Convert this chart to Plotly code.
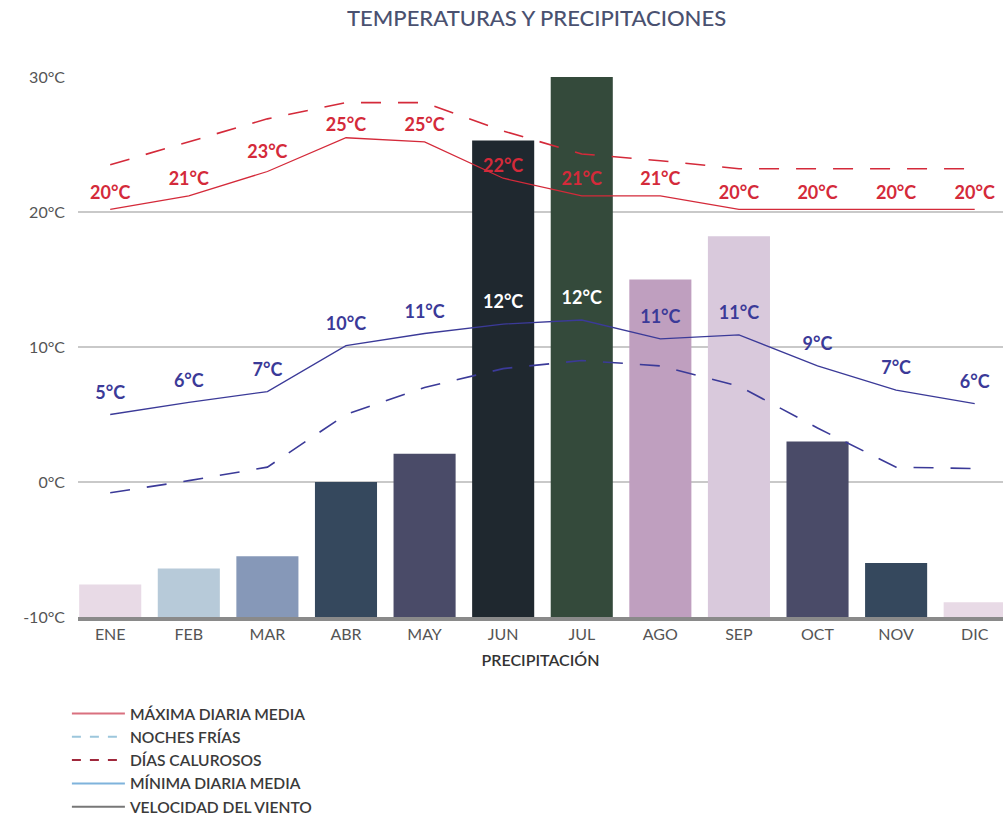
import plotly.graph_objects as go

months = ["ENE", "FEB", "MAR", "ABR", "MAY", "JUN", "JUL", "AGO", "SEP", "OCT", "NOV", "DIC"]

# Bars (precipitation), expressed as top value on the temperature scale (base at -10)
precip_top = [-7.6, -6.4, -5.5, 0.0, 2.1, 25.3, 30.0, 15.0, 18.2, 3.0, -6.0, -8.9]
bar_colors = ["#e8dae6", "#b7cad9", "#8698b8", "#35485d", "#4a4b68", "#1f282f",
              "#344a3b", "#bf9fbf", "#d9c9dc", "#4a4b68", "#35485d", "#e8dae6"]

# Lines
max_media = [20.2, 21.2, 23.0, 25.5, 25.2, 22.5, 21.2, 21.2, 20.2, 20.2, 20.2, 20.2]
dias_calurosos = [23.5, 25.2, 26.9, 28.1, 28.1, 26.0, 24.3, 23.8, 23.2, 23.2, 23.2, 23.2]
min_media = [5.0, 5.9, 6.7, 10.1, 11.0, 11.7, 12.0, 10.6, 10.9, 8.6, 6.8, 5.8]
noches_frias = [-0.8, 0.1, 1.1, 5.0, 7.0, 8.4, 9.0, 8.6, 7.1, 4.0, 1.1, 1.0]

# Labels
max_labels = [20, 21, 23, 25, 25, 22, 21, 21, 20, 20, 20, 20]
min_labels = [5, 6, 7, 10, 11, 12, 12, 11, 11, 9, 7, 6]

y_ticks = [-10, 0, 10, 20, 30]

RED = "#d42a3a"
BLUE = "#3b3a98"
LABEL_FONT = "Lato"
RED_LABEL_OFFSET = 1.3
BLUE_LABEL_OFFSET = 1.5
LONG_DASH = "20px,17px"

fig = go.Figure()

fig.add_trace(go.Bar(
    x=months, y=[t + 10 for t in precip_top], base=-10,
    marker=dict(color=bar_colors, line=dict(width=0)),
    showlegend=False, hoverinfo="skip",
))

fig.add_trace(go.Scatter(
    x=months, y=dias_calurosos, mode="lines",
    line=dict(color=RED, width=1.6, dash=LONG_DASH), showlegend=False,
))
fig.add_trace(go.Scatter(
    x=months, y=noches_frias, mode="lines",
    line=dict(color=BLUE, width=1.6, dash=LONG_DASH), showlegend=False,
))
fig.add_trace(go.Scatter(
    x=months, y=max_media, mode="lines",
    line=dict(color=RED, width=1.3), showlegend=False,
))
fig.add_trace(go.Scatter(
    x=months, y=min_media, mode="lines",
    line=dict(color=BLUE, width=1.3), showlegend=False,
))

# Data labels
fig.add_trace(go.Scatter(
    x=months, y=[v + RED_LABEL_OFFSET for v in max_labels], mode="text",
    text=[f"{v}°C" for v in max_labels], textposition="middle center",
    textfont=dict(family=LABEL_FONT, size=18, color=RED, weight="bold"),
    cliponaxis=False, showlegend=False, hoverinfo="skip",
))
min_text_colors = ["#ffffff" if t >= 25 else BLUE for t in precip_top]
fig.add_trace(go.Scatter(
    x=months, y=[v + BLUE_LABEL_OFFSET for v in min_media], mode="text",
    text=[f"{v}°C" for v in min_labels], textposition="middle center",
    textfont=dict(family=LABEL_FONT, size=18, color=min_text_colors, weight="bold"),
    cliponaxis=False, showlegend=False, hoverinfo="skip",
))

# Legend entries
legend_items = [
    ("MÁXIMA DIARIA MEDIA", "#d9707f", "solid"),
    ("NOCHES FRÍAS", "#9cc6dc", "dash"),
    ("DÍAS CALUROSOS", "#a0283c", "dash"),
    ("MÍNIMA DIARIA MEDIA", "#7fb3dc", "solid"),
    ("VELOCIDAD DEL VIENTO", "#777777", "solid"),
]
for name, col, dash in legend_items:
    fig.add_trace(go.Scatter(
        x=[None], y=[None], mode="lines", name=name,
        line=dict(color=col, width=2, dash=dash),
    ))

fig.update_layout(
    width=1003, height=815,
    margin=dict(l=78, r=0, t=77, b=198, autoexpand=False),
    paper_bgcolor="white", plot_bgcolor="white",
    bargap=0.21,
    title=dict(
        text="TEMPERATURAS Y PRECIPITACIONES",
        x=0.535, xanchor="center", y=0.977, yanchor="middle",
        font=dict(family="Lato", size=22, color="#4a5170", weight=500),
    ),
    font=dict(family="Lato", color="#444444"),
    legend=dict(
        x=-0.012, y=-0.148, xanchor="left", yanchor="top",
        font=dict(family="Lato", size=15.6, color="#3a3a3a", weight=600),
        bgcolor="rgba(0,0,0,0)", tracegroupgap=0, itemwidth=53,
    ),
    xaxis=dict(
        type="category", range=[-0.41, 11.36],
        showgrid=False, showline=True, linecolor="#8a8a8a", linewidth=4,
        ticks="", ticklabelstandoff=0,
        tickfont=dict(family="Lato", size=16, color="#555555"),
        title=dict(text="PRECIPITACIÓN", standoff=14,
                   font=dict(family="Lato", size=16, color="#333333", weight=600)),
    ),
    yaxis=dict(
        range=[-10, 30], tickvals=y_ticks,
        ticktext=[f"{v}°C" for v in y_ticks],
        showgrid=True, gridcolor="#c9c9c9", gridwidth=1.5,
        zeroline=False, showline=False, ticks="",
        ticklabelstandoff=12,
        tickfont=dict(family="Lato", size=16, color="#555555"),
    ),
)

fig.write_html(
    "out.html",
    config={"displayModeBar": False},
    post_script="document.body.style.margin='0';document.body.style.overflow='hidden';",
)
